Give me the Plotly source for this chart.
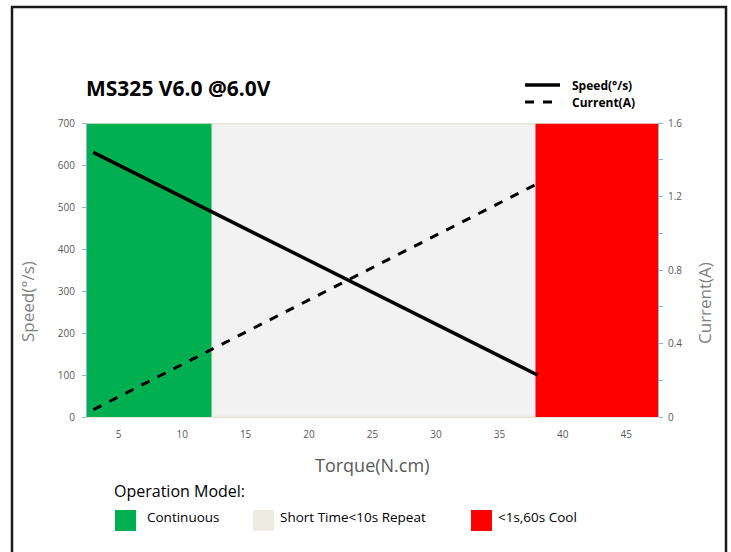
import plotly.graph_objects as go

# ---- data ----
torque = [3, 38]
speed = [630, 100]
current = [0.04, 1.27]

zone_names = ["Continuous", "Short Time<10s Repeat", "<1s,60s Cool"]
zone_start = [2.5, 12.4, 38.0]
zone_end = [12.4, 38.0, 47.5]
zone_top = [695, 695, 695]
zone_colors = ["#00b050", "#f2f2f2", "#ff0000"]
zone_lines = ["#00b050", "#eeece1", "#ff0000"]

x_ticks = [5, 10, 15, 20, 25, 30, 35, 40, 45]
y_ticks = [0, 100, 200, 300, 400, 500, 600, 700]
y2_ticks = [0, 0.4, 0.8, 1.2, 1.6]

# ---- layout geometry (pixels) ----
W, H = 731, 552
L, R, T, B = 87, 658, 123, 417


def px(x):
    return (x - L) / (R - L)


def py(y):
    return (B - y) / (B - T)


fig = go.Figure()

for s, e, t, c, lc in zip(zone_start, zone_end, zone_top, zone_colors, zone_lines):
    fig.add_trace(go.Bar(
        x=[(s + e) / 2], y=[t], width=[e - s],
        marker=dict(color=c, line=dict(color=lc, width=1.5)),
        showlegend=False, hoverinfo="skip"))

fig.add_trace(go.Scatter(x=torque, y=speed, mode="lines",
                         line=dict(color="black", width=3.5), showlegend=False))
fig.add_trace(go.Scatter(x=torque, y=current, mode="lines", yaxis="y2",
                         line=dict(color="black", width=3, dash="dash"), showlegend=False))

axis_blue = "#8db3e2"
tick_font = dict(family="Open Sans", size=10, color="#595959")

fig.update_layout(
    width=W, height=H,
    margin=dict(l=L, r=W - R, t=T, b=H - B),
    paper_bgcolor="white", plot_bgcolor="white",
    barmode="overlay", bargap=0,
    xaxis=dict(range=[2.5, 47.5], tickvals=x_ticks, showgrid=False, zeroline=False,
               showline=True, linecolor="#e4e2d6", ticks="outside", ticklen=8,
               tickcolor="rgba(0,0,0,0)", tickfont=tick_font),
    yaxis=dict(range=[0, 700], tickvals=y_ticks, showgrid=False, zeroline=False,
               showline=True, linecolor=axis_blue, ticks="outside", ticklen=4,
               tickcolor=axis_blue, tickfont=tick_font, ticklabelstandoff=5),
    yaxis2=dict(range=[0, 1.6], tickvals=y2_ticks, overlaying="y", side="right",
                showgrid=False, zeroline=False, showline=True, linecolor=axis_blue,
                ticks="outside", ticklen=4, tickcolor=axis_blue, tickfont=tick_font,
                ticklabelstandoff=3,
                minor=dict(dtick=0.2, ticks="outside", ticklen=4, tickcolor=axis_blue)),
    font=dict(family="Open Sans"),
)

shapes = []
# outer frame
shapes.append(dict(type="rect", xref="paper", yref="paper",
                   x0=px(12), x1=px(726), y0=py(570), y1=py(7),
                   line=dict(color="#1a1a1a", width=2.5), fillcolor="rgba(0,0,0,0)",
                   layer="above"))
# top gridline at 700
shapes.append(dict(type="line", xref="paper", yref="y", x0=0, x1=1, y0=700, y1=700,
                   line=dict(color="#d9d9d9", width=1)))
# top legend line samples
shapes.append(dict(type="line", xref="paper", yref="paper", x0=px(525), x1=px(560),
                   y0=py(85), y1=py(85), line=dict(color="black", width=3.5)))
shapes.append(dict(type="line", xref="paper", yref="paper", x0=px(525), x1=px(560),
                   y0=py(102), y1=py(102), line=dict(color="black", width=3, dash="dash")))
# bottom legend squares
sq_x = [115, 253, 471]
for x0, c in zip(sq_x, zone_colors[:1] + ["#eeece1"] + zone_colors[2:]):
    shapes.append(dict(type="rect", xref="paper", yref="paper",
                       x0=px(x0), x1=px(x0 + 21), y0=py(531), y1=py(510),
                       line=dict(width=0), fillcolor=c))
fig.update_layout(shapes=shapes)

ann = []
ann.append(dict(x=px(84), y=py(88), xref="paper", yref="paper", text="<b>MS325 V6.0 @6.0V</b>",
                showarrow=False, xanchor="left", yanchor="middle",
                font=dict(family="Open Sans", size=21, color="black")))
ann.append(dict(x=px(570), y=py(85), xref="paper", yref="paper", text="<b>Speed(°/s)</b>",
                showarrow=False, xanchor="left", yanchor="middle",
                font=dict(family="Liberation Sans Narrow, Open Sans", size=12, color="black")))
ann.append(dict(x=px(570), y=py(102), xref="paper", yref="paper", text="<b>Current(A)</b>",
                showarrow=False, xanchor="left", yanchor="middle",
                font=dict(family="Liberation Sans Narrow, Open Sans", size=12, color="black")))
ann.append(dict(x=px(27), y=py(302), xref="paper", yref="paper", text="Speed(°/s)",
                showarrow=False, textangle=-90, xanchor="center", yanchor="middle",
                font=dict(family="Open Sans", size=17, color="#7f7f7f")))
ann.append(dict(x=px(704), y=py(303), xref="paper", yref="paper", text="Current(A)",
                showarrow=False, textangle=-90, xanchor="center", yanchor="middle",
                font=dict(family="Open Sans", size=17, color="#7f7f7f")))
ann.append(dict(x=px(372), y=py(465), xref="paper", yref="paper", text="Torque(N.cm)",
                showarrow=False, xanchor="center", yanchor="middle",
                font=dict(family="Open Sans", size=18, color="#595959")))
ann.append(dict(x=px(112), y=py(491), xref="paper", yref="paper", text="Operation Model:",
                showarrow=False, xanchor="left", yanchor="middle",
                font=dict(family="Open Sans", size=16, color="black")))
txt_x = [145, 278, 496]
for x0, name in zip(txt_x, zone_names):
    ann.append(dict(x=px(x0), y=py(517), xref="paper", yref="paper", text=name,
                    showarrow=False, xanchor="left", yanchor="middle",
                    font=dict(family="Open Sans", size=13.5, color="black")))
fig.update_layout(annotations=ann)

fig.write_html("out.html", config={"displayModeBar": False},
               post_script="document.body.style.margin='0';")
